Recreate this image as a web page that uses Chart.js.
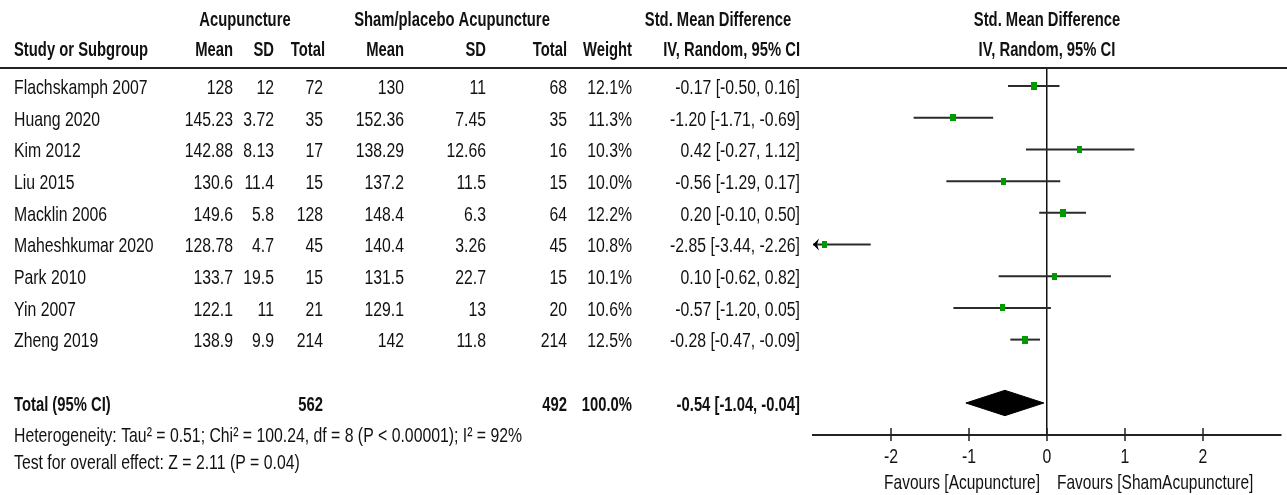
<!DOCTYPE html>
<html>
<head>
<meta charset="utf-8">
<script src="https://cdn.jsdelivr.net/npm/chart.js@4.4.1/dist/chart.umd.min.js"></script>
<style>
  html, body { margin: 0; padding: 0; background: #fff; }
  #wrap { position: relative; width: 1287px; height: 495px; }
</style>
</head>
<body>
<div id="wrap"><canvas id="forest"></canvas></div>
<script>
// Study data: acupuncture vs sham/placebo acupuncture
const studies   = ['Flachskamph 2007', 'Huang 2020', 'Kim 2012', 'Liu 2015', 'Macklin 2006',
                   'Maheshkumar 2020', 'Park 2010', 'Yin 2007', 'Zheng 2019'];
const acuMean   = [128, 145.23, 142.88, 130.6, 149.6, 128.78, 133.7, 122.1, 138.9];
const acuSD     = [12, 3.72, 8.13, 11.4, 5.8, 4.7, 19.5, 11, 9.9];
const acuN      = [72, 35, 17, 15, 128, 45, 15, 21, 214];
const shamMean  = [130, 152.36, 138.29, 137.2, 148.4, 140.4, 131.5, 129.1, 142];
const shamSD    = [11, 7.45, 12.66, 11.5, 6.3, 3.26, 22.7, 13, 11.8];
const shamN     = [68, 35, 16, 15, 64, 45, 15, 20, 214];
const weights   = [12.1, 11.3, 10.3, 10.0, 12.2, 10.8, 10.1, 10.6, 12.5];
const smd       = [-0.17, -1.20, 0.42, -0.56, 0.20, -2.85, 0.10, -0.57, -0.28];
const ciLow     = [-0.50, -1.71, -0.27, -1.29, -0.10, -3.44, -0.62, -1.20, -0.47];
const ciHigh    = [0.16, -0.69, 1.12, 0.17, 0.50, -2.26, 0.82, 0.05, -0.09];

// Pooled result
const totalAcuN   = 562;
const totalShamN  = 492;
const totalWeight = 100.0;
const pooledSmd   = -0.54;
const pooledLow   = -1.04;
const pooledHigh  = -0.04;

const tickValues = [-2, -1, 0, 1, 2];
const axisMin = -3, axisMax = 3;

const heterogeneityText = 'Heterogeneity: Tau\u00B2 = 0.51; Chi\u00B2 = 100.24, df = 8 (P < 0.00001); I\u00B2 = 92%';
const overallText = 'Test for overall effect: Z = 2.11 (P = 0.04)';
const favoursLeft = 'Favours [Acupuncture]';
const favoursRight = 'Favours [ShamAcupuncture]';

const TOTAL_ROW = 10;
const fmt2 = v => v.toFixed(2);
const ciLabel = (e, l, h) => `${fmt2(e)} [${fmt2(l)}, ${fmt2(h)}]`;

// Weighted study marker: a small upright green block
function marker(w) {
  const c = document.createElement('canvas');
  c.width = Math.max(4, Math.round(w * 0.5));
  c.height = Math.max(6, Math.round(w * 0.66));
  const g = c.getContext('2d');
  g.fillStyle = '#009a00';
  g.fillRect(0, 0, c.width, c.height);
  return c;
}

// Datasets: study markers, CI whiskers, pooled diamond
const datasets = [];
datasets.push({
  type: 'scatter',
  data: smd.map((v, i) => ({ x: v, y: i })),
  pointStyle: weights.map(marker),
  pointRadius: 5,
  order: 0
});
studies.forEach((s, i) => {
  datasets.push({
    type: 'scatter',
    showLine: true,
    data: [{ x: ciLow[i], y: i }, { x: ciHigh[i], y: i }],
    borderColor: '#2b2b2b',
    borderWidth: 2,
    pointRadius: 0,
    order: 1
  });
});
const dh = 0.4;
datasets.push({
  type: 'scatter',
  showLine: true,
  data: [
    { x: pooledLow, y: TOTAL_ROW },
    { x: pooledSmd, y: TOTAL_ROW - dh },
    { x: pooledHigh, y: TOTAL_ROW },
    { x: pooledSmd, y: TOTAL_ROW + dh },
    { x: pooledLow, y: TOTAL_ROW }
  ],
  borderColor: '#000',
  borderWidth: 1,
  backgroundColor: '#000',
  fill: 'shape',
  tension: 0,
  pointRadius: 0,
  order: 1
});

// Text helper: narrow, tall lettering (w = effective width size, cap = cap height)
const BASE = 19;
function face(w, cap, bold) {
  return { sx: w / BASE, sy: cap / (0.716 * BASE), weight: bold ? 'bold ' : '' };
}
const REG = face(15.8, 15, false);
const BLD = face(14.8, 15, true);
const SMALL = face(15.5, 15, false);
function txt(ctx, s, x, y, align, f) {
  ctx.save();
  ctx.translate(x, y);
  ctx.scale(f.sx, f.sy);
  ctx.font = `${f.weight}${BASE}px "Liberation Sans", Arial, sans-serif`;
  ctx.textAlign = align;
  ctx.textBaseline = 'middle';
  ctx.fillStyle = '#111';
  ctx.fillText(s, 0, 0);
  ctx.restore();
}

// Column anchors (right edges unless noted)
const COL = { name: 14, aMean: 233, aSD: 274, aN: 323, sMean: 404, sSD: 486, sN: 567, wt: 632, ci: 800 };

const tablePlugin = {
  id: 'forestTable',
  afterDraw(chart) {
    const ctx = chart.ctx;
    const xs = chart.scales.x, ys = chart.scales.y;
    const area = chart.chartArea;
    const rowY = i => ys.getPixelForValue(i) + 2;
    const mid = (area.left + area.right) / 2;

    // header
    txt(ctx, 'Acupuncture', 245, 20, 'center', BLD);
    txt(ctx, 'Sham/placebo Acupuncture', 452, 20, 'center', BLD);
    txt(ctx, 'Std. Mean Difference', 718, 20, 'center', BLD);
    txt(ctx, 'Std. Mean Difference', mid, 20, 'center', BLD);
    txt(ctx, 'Study or Subgroup', COL.name, 50, 'left', BLD);
    txt(ctx, 'Mean', COL.aMean, 50, 'right', BLD);
    txt(ctx, 'SD', COL.aSD, 50, 'right', BLD);
    txt(ctx, 'Total', COL.aN + 2, 50, 'right', BLD);
    txt(ctx, 'Mean', COL.sMean, 50, 'right', BLD);
    txt(ctx, 'SD', COL.sSD, 50, 'right', BLD);
    txt(ctx, 'Total', COL.sN, 50, 'right', BLD);
    txt(ctx, 'Weight', COL.wt, 50, 'right', BLD);
    txt(ctx, 'IV, Random, 95% CI', COL.ci, 50, 'right', BLD);
    txt(ctx, 'IV, Random, 95% CI', mid, 50, 'center', BLD);

    // header rule
    ctx.save();
    ctx.strokeStyle = '#222';
    ctx.lineWidth = 2;
    ctx.beginPath();
    ctx.moveTo(0, area.top);
    ctx.lineTo(chart.width, area.top);
    ctx.stroke();
    ctx.restore();

    // study rows
    studies.forEach((s, i) => {
      const y = rowY(i);
      txt(ctx, s, COL.name, y, 'left', REG);
      txt(ctx, String(acuMean[i]), COL.aMean, y, 'right', REG);
      txt(ctx, String(acuSD[i]), COL.aSD, y, 'right', REG);
      txt(ctx, String(acuN[i]), COL.aN, y, 'right', REG);
      txt(ctx, String(shamMean[i]), COL.sMean, y, 'right', REG);
      txt(ctx, String(shamSD[i]), COL.sSD, y, 'right', REG);
      txt(ctx, String(shamN[i]), COL.sN, y, 'right', REG);
      txt(ctx, weights[i].toFixed(1) + '%', COL.wt, y, 'right', REG);
      txt(ctx, ciLabel(smd[i], ciLow[i], ciHigh[i]), COL.ci, y, 'right', REG);

      // arrow where the interval runs past the axis
      if (ciLow[i] < axisMin) {
        const ax = xs.getPixelForValue(axisMin);
        const py = ys.getPixelForValue(i);
        ctx.save();
        ctx.fillStyle = '#000';
        ctx.beginPath();
        ctx.moveTo(ax, py);
        ctx.lineTo(ax + 6, py - 6);
        ctx.lineTo(ax + 4, py);
        ctx.lineTo(ax + 6, py + 6);
        ctx.closePath();
        ctx.fill();
        ctx.restore();
      }
    });

    // total row
    const ty = rowY(TOTAL_ROW);
    txt(ctx, 'Total (95% CI)', COL.name, ty, 'left', BLD);
    txt(ctx, String(totalAcuN), COL.aN, ty, 'right', BLD);
    txt(ctx, String(totalShamN), COL.sN, ty, 'right', BLD);
    txt(ctx, totalWeight.toFixed(1) + '%', COL.wt, ty, 'right', BLD);
    txt(ctx, ciLabel(pooledSmd, pooledLow, pooledHigh), COL.ci, ty, 'right', BLD);

    txt(ctx, heterogeneityText, COL.name, 436, 'left', REG);
    txt(ctx, overallText, COL.name, 463, 'left', REG);

    // axis ticks and labels
    const axY = area.bottom;
    ctx.save();
    ctx.strokeStyle = '#222';
    ctx.lineWidth = 1.5;
    tickValues.forEach(v => {
      const px = xs.getPixelForValue(v);
      ctx.beginPath();
      ctx.moveTo(px, axY - 7);
      ctx.lineTo(px, axY + 6);
      ctx.stroke();
    });
    ctx.restore();
    tickValues.forEach(v => {
      txt(ctx, String(v), xs.getPixelForValue(v), axY + 22, 'center', REG);
    });
    const zx = xs.getPixelForValue(0);
    txt(ctx, favoursLeft, zx - 7, axY + 48, 'right', SMALL);
    txt(ctx, favoursRight, zx + 10, axY + 48, 'left', SMALL);
  }
};

new Chart(document.getElementById('forest'), {
  type: 'scatter',
  data: { datasets },
  options: {
    responsive: true,
    maintainAspectRatio: false,
    animation: false,
    devicePixelRatio: 1,
    layout: { padding: { left: 813, right: 4, top: 68, bottom: 0 } },
    plugins: { legend: { display: false }, tooltip: { enabled: false } },
    scales: {
      x: {
        type: 'linear',
        min: axisMin,
        max: axisMax,
        afterBuildTicks: s => { s.ticks = tickValues.map(v => ({ value: v })); },
        afterFit: s => { s.height = 60; },
        ticks: { display: false },
        border: { display: true, color: '#222', width: 2 },
        grid: {
          drawTicks: false,
          drawOnChartArea: true,
          color: c => (c.tick && c.tick.value === 0 ? '#111' : 'rgba(0,0,0,0)'),
          lineWidth: 1.5
        }
      },
      y: {
        type: 'linear',
        min: -0.57,
        max: 11.01,
        reverse: true,
        display: false
      }
    }
  },
  plugins: [tablePlugin]
});
</script>
</body>
</html>
